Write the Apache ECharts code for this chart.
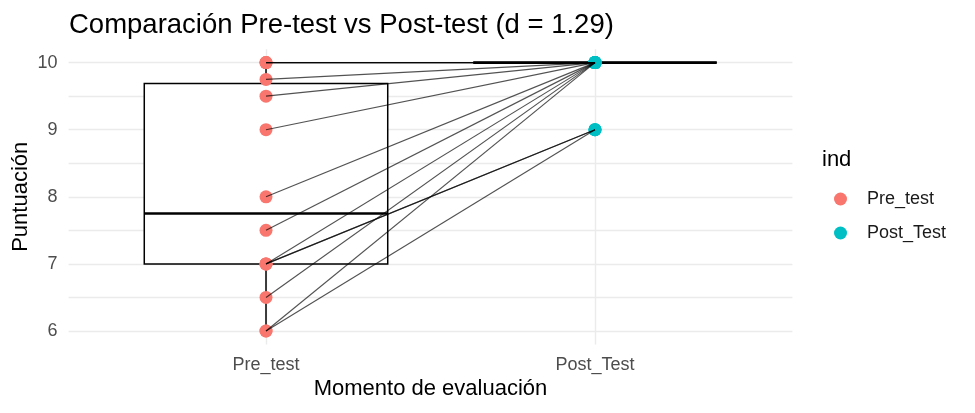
<!DOCTYPE html>
<html>
<head>
<meta charset="utf-8">
<script src="https://cdn.jsdelivr.net/npm/echarts@6/dist/echarts.min.js"></script>
<style>
html,body{margin:0;padding:0;background:#fff}
#c{width:975px;height:413px}
</style>
</head>
<body>
<div id="c"></div>
<script>
// ---- data ----
const categories = ['Pre_test', 'Post_Test'];
const preScores  = [10, 10, 10, 9.75, 9.5, 9, 8, 7.5, 7, 7, 7, 6.5, 6, 6];
const postScores = [10, 10, 10, 10,   10,  10, 10, 10, 10, 9, 9, 10, 10, 9];
const yTickLabels = [6, 7, 8, 9, 10];
const yGridValues = [6, 6.5, 7, 7.5, 8, 8.5, 9, 9.5, 10];
const titleText = 'Comparación Pre-test vs Post-test (d = 1.29)';
const xTitle = 'Momento de evaluación';
const yTitle = 'Puntuación';
const legendTitle = 'ind';
const colors = ['#F8766D', '#00BFC4'];

// ---- boxplot statistics (quantile type 7, 1.5 IQR whiskers) ----
function q7(s, p) {
  const h = (s.length - 1) * p, lo = Math.floor(h), hi = Math.ceil(h);
  return s[lo] + (h - lo) * (s[hi] - s[lo]);
}
function boxStats(arr) {
  const s = arr.slice().sort((a, b) => a - b);
  const q1 = q7(s, 0.25), med = q7(s, 0.5), q3 = q7(s, 0.75), iqr = q3 - q1;
  const lo = s.find(v => v >= q1 - 1.5 * iqr);
  const hi = s.slice().reverse().find(v => v <= q3 + 1.5 * iqr);
  return [lo, q1, med, q3, hi];
}
const groups = [preScores, postScores];
const boxData = groups.map((g, i) => [i].concat(boxStats(g)));
const pairData = preScores.map((v, i) => [0, v, 1, postScores[i]]);

const FONT = 'Liberation Sans, Arial, sans-serif';
const chart = echarts.init(document.getElementById('c'), null, {renderer: 'canvas'});

chart.setOption({
  animation: false,
  backgroundColor: '#ffffff',
  title: [
    {text: titleText, left: 69, top: 11, padding: 0,
     textStyle: {fontFamily: FONT, fontSize: 27.5, fontWeight: 'normal', color: '#000'}},
    {text: legendTitle, left: 822, top: 149, padding: 0,
     textStyle: {fontFamily: FONT, fontSize: 22, fontWeight: 'normal', color: '#000'}}
  ],
  legend: {
    orient: 'vertical', left: 834, top: 190, padding: 0,
    itemWidth: 43, itemHeight: 13, itemGap: 16, icon: 'circle',
    data: categories,
    textStyle: {fontFamily: FONT, fontSize: 18, color: '#1a1a1a'}
  },
  grid: {left: 68.6, right: 182.6, top: 49.2, bottom: 68.6, containLabel: false, outerBoundsMode: 'none'},
  xAxis: {
    type: 'value', min: -0.6, max: 1.6,
    axisLine: {show: false},
    axisTick: {show: false, customValues: [0, 1]},
    axisLabel: {customValues: [0, 1], formatter: v => categories[Math.round(v)],
                margin: 12, fontFamily: FONT, fontSize: 18, color: '#4D4D4D'},
    splitLine: {show: true, lineStyle: {color: '#EBEBEB', width: 1.4}},
    name: xTitle, nameLocation: 'middle', nameGap: 34, nameMoveOverlap: false,
    nameTextStyle: {fontFamily: FONT, fontSize: 22, color: '#000'}
  },
  yAxis: {
    type: 'value', min: 5.8, max: 10.2,
    axisLine: {show: false},
    axisTick: {show: false, customValues: yGridValues},
    axisLabel: {customValues: yTickLabels, margin: 11, fontFamily: FONT, fontSize: 18, color: '#4D4D4D'},
    splitLine: {show: true, lineStyle: {color: '#EBEBEB', width: 1.4}},
    name: yTitle, nameLocation: 'middle', nameGap: 37, nameRotate: 90, nameMoveOverlap: false,
    nameTextStyle: {fontFamily: FONT, fontSize: 22, color: '#000'}
  },
  series: [
    {
      type: 'custom', name: 'box', z: 2, silent: true,
      data: boxData,
      encode: {x: 0, y: [1, 2, 3, 4, 5]},
      renderItem: function (params, api) {
        const x = api.value(0);
        const pLo = api.coord([x, api.value(1)]);
        const pQ1 = api.coord([x, api.value(2)]);
        const pMed = api.coord([x, api.value(3)]);
        const pQ3 = api.coord([x, api.value(4)]);
        const pHi = api.coord([x, api.value(5)]);
        const halfW = api.size([0.74, 0])[0] / 2;
        const cx = pQ1[0];
        const ls = {stroke: '#000', lineWidth: 1.5};
        return {type: 'group', children: [
          {type: 'line', shape: {x1: cx, y1: pHi[1], x2: cx, y2: pQ3[1]}, style: ls},
          {type: 'line', shape: {x1: cx, y1: pQ1[1], x2: cx, y2: pLo[1]}, style: ls},
          {type: 'rect', shape: {x: cx - halfW, y: pQ3[1], width: 2 * halfW, height: pQ1[1] - pQ3[1]},
           style: {stroke: '#000', lineWidth: 1.5, fill: '#fff'}},
          {type: 'line', shape: {x1: cx - halfW, y1: pMed[1], x2: cx + halfW, y2: pMed[1]},
           style: {stroke: '#000', lineWidth: 2.6}}
        ]};
      }
    },
    {
      type: 'scatter', name: categories[0], z: 3, symbol: 'circle', symbolSize: 13,
      itemStyle: {color: colors[0], opacity: 1},
      data: preScores.map(v => [0, v])
    },
    {
      type: 'scatter', name: categories[1], z: 3, symbol: 'circle', symbolSize: 13,
      itemStyle: {color: colors[1], opacity: 1},
      data: postScores.map(v => [1, v])
    },
    {
      type: 'custom', name: 'pairs', z: 4, silent: true,
      data: pairData,
      encode: {x: [0, 2], y: [1, 3]},
      renderItem: function (params, api) {
        const a = api.coord([api.value(0), api.value(1)]);
        const b = api.coord([api.value(2), api.value(3)]);
        return {type: 'line', shape: {x1: a[0], y1: a[1], x2: b[0], y2: b[1]},
                style: {stroke: 'rgba(0,0,0,0.68)', lineWidth: 1.15}};
      }
    }
  ]
});
</script>
</body>
</html>
